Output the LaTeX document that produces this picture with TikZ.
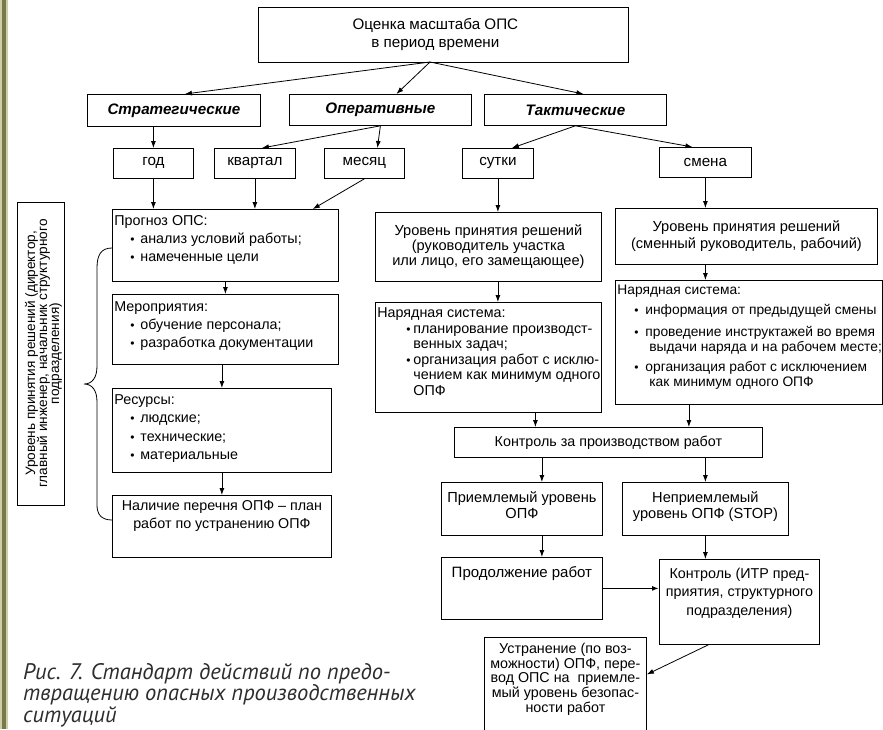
\documentclass[tikz,border=0pt]{standalone}
\usepackage{fontspec}
\setmainfont{Liberation Sans}
\newfontfamily\capfont{PT Sans}
\usetikzlibrary{arrows.meta}

\definecolor{bardark}{RGB}{122,122,72}
\definecolor{barlight}{RGB}{205,205,170}
\definecolor{capgray}{RGB}{45,45,45}

\newcommand{\dg}{\fontsize{14.3}{15}\selectfont}
\newcommand{\lgtxt}{\fontsize{15.2}{18}\selectfont}
% cell with text starting at the top: width, height, first baseline, content
\newcommand{\topcell}[4]{\parbox[c][#2][t]{#1}{\raggedright\rule{0pt}{#3}\ignorespaces#4}}
% same, lines centred
\newcommand{\topcellc}[4]{\parbox[c][#2][t]{#1}{\centering\rule{0pt}{#3}\ignorespaces#4}}
% cell with text centred both ways
\newcommand{\midcell}[3]{\parbox[c][#2][c]{#1}{\centering #3}}
\newcommand{\blt}{{\fontsize{12}{12}\selectfont\textbullet}}
% list entry: bullet offset, text offset, hanging indent, text
\newcommand{\bitem}[4]{\par\hangindent=#3\hangafter=1\noindent\hspace*{#1}\makebox[\dimexpr#2-#1\relax][l]{\blt}#4}

\begin{document}
\begin{tikzpicture}[x=1pt,y=-1pt,
  box/.style={draw=black, line width=0.8pt, inner sep=0pt, anchor=north west, font=\dg},
  arr/.style={-{Latex[length=7pt,width=5pt]}, line width=0.8pt},
]
\useasboundingbox (0,0) rectangle (883,729);
\fill[white] (0,0) rectangle (883,729);
% page margin bar
\fill[barlight] (0,0) rectangle (8,729);
\fill[bardark] (2,0) rectangle (6,729);

% ---- top level
\node[box] (top) at (258,7) {\midcell{354pt}{55pt}{\lgtxt Оценка масштаба ОПС\\в период времени}\hspace*{16pt}};
\node[box] (strat) at (87,94) {\midcell{173pt}{32pt}{\lgtxt\textbf{\textit{Стратегические}}}};
\node[box] (oper) at (289,94) {\midcell{182pt}{31pt}{\lgtxt\textbf{\textit{Оперативные}}}};
\node[box] (tact) at (484,94) {\midcell{182pt}{31pt}{\lgtxt\textbf{\textit{Тактические}}}};

% ---- periods
\node[box] (god) at (113,148) {\midcell{80pt}{30pt}{\lgtxt год}};
\node[box] (kvart) at (214,148) {\midcell{81pt}{30pt}{\lgtxt квартал}};
\node[box] (mes) at (324,148) {\midcell{80pt}{30pt}{\lgtxt месяц}};
\node[box] (sut) at (462,148) {\midcell{71pt}{30pt}{\lgtxt сутки}};
\node[box] (smena) at (659,147) {\midcell{92pt}{30pt}{\lgtxt смена}};

% ---- strategic / operative column
\node[box] (progn) at (112,209) {\topcell{226pt}{72pt}{16pt}{\fontsize{14.3}{18}\selectfont\hspace*{2pt}Прогноз ОПС:
  \bitem{18pt}{28pt}{28pt}{анализ условий работы;}
  \bitem{18pt}{28pt}{28pt}{намеченные цели}}};
\node[box] (merop) at (112,294) {\topcell{226pt}{70pt}{17pt}{\fontsize{14.3}{18}\selectfont\hspace*{2pt}Мероприятия:
  \bitem{18pt}{28pt}{28pt}{обучение персонала;}
  \bitem{18pt}{28pt}{28pt}{разработка документации}}};
\node[box] (res) at (112,388) {\topcell{219pt}{84pt}{16pt}{\fontsize{14.3}{18.5}\selectfont\hspace*{2pt}Ресурсы:
  \bitem{18pt}{28pt}{28pt}{людские;}
  \bitem{18pt}{28pt}{28pt}{технические;}
  \bitem{18pt}{28pt}{28pt}{материальные}}};
\node[box] (nalich) at (112,495) {\topcellc{219pt}{62pt}{15pt}{\fontsize{14.3}{18}\selectfont Наличие перечня ОПФ – план\\работ по устранению ОПФ}};

% decision level of the management
\node[box, anchor=center, rotate=90] (side) at (40.5,353.5) {\midcell{303pt}{47pt}{\vspace*{6pt}\fontsize{13.6}{12}\selectfont\lineskiplimit=-20pt
  Уровень принятия решений (директор,\\главный инженер, начальник структурного\\подразделения)}};
\draw[line width=0.8pt] (progn.west |- 0,248) .. controls (101,248) and (97,255) .. (97,268) -- (97,366)
  .. controls (97,378) and (92,384) .. (84,384)
  .. controls (92,384) and (97,390) .. (97,402) -- (97,505)
  .. controls (97,514) and (101,520) .. (nalich.west |- 0,520);

% ---- tactical columns
\node[box] (urov1) at (375,212) {\midcell{226pt}{69pt}{\fontsize{14.6}{15}\selectfont Уровень принятия решений\\(руководитель участка\\или лицо, его замещающее)}};
\node[box] (nar1) at (375,302) {\topcell{226pt}{110pt}{15pt}{\fontsize{14.3}{15.6}\selectfont\hspace*{2pt}Нарядная система:
  \bitem{31pt}{38pt}{38pt}{планирование производст-\newline венных задач;}
  \bitem{31pt}{38pt}{38pt}{организация работ с исклю-\newline чением как минимум одного\newline ОПФ}}};
\node[box] (urov2) at (615,208) {\midcell{262pt}{56pt}{\fontsize{14.6}{17}\selectfont Уровень принятия решений\\(сменный руководитель, рабочий)}};
\node[box] (nar2) at (615,280) {\topcell{267pt}{124pt}{14pt}{\fontsize{13.8}{15}\selectfont\hspace*{2pt}Нарядная система:
  \par\vspace{5pt}
  \bitem{19pt}{30pt}{34pt}{\mbox{информация от предыдущей смены}}
  \par\vspace{7pt}
  \bitem{19pt}{30pt}{34pt}{\mbox{проведение инструктажей во время}\newline\mbox{выдачи наряда и на рабочем месте;}}
  \par\vspace{5pt}
  \bitem{19pt}{30pt}{34pt}{\mbox{организация работ с исключением}\newline\mbox{как минимум одного ОПФ}}}};

% ---- control of the works
\node[box] (kontrol) at (454,427) {\midcell{308pt}{30pt}{Контроль за производством работ}};
\node[box] (priem) at (441,482) {\topcellc{161pt}{53pt}{20pt}{\fontsize{14.6}{16}\selectfont Приемлемый уровень\\ОПФ}};
\node[box] (nepriem) at (622,482) {\topcellc{166pt}{53pt}{20pt}{\fontsize{14.6}{16}\selectfont Неприемлемый\\уровень ОПФ (STOP)}};
\node[box] (prod) at (441,557) {\topcellc{161pt}{62pt}{20pt}{\fontsize{15}{16}\selectfont Продолжение работ}};
\node[box] (itr) at (659,559) {\topcellc{160pt}{85pt}{19pt}{\fontsize{14.3}{18.5}\selectfont Контроль (ИТР пред-\\приятия, структурного\\подразделения)}};
\node[box] (ustr) at (484,637) {\topcellc{162pt}{100pt}{16pt}{\fontsize{14.3}{14.7}\selectfont Устранение (по воз-\\можности) ОПФ, пере-\\вод ОПС на~~приемле-\\мый уровень безопас-\\ности работ}};

% ---- caption
\node[anchor=base west, align=left, inner sep=0pt, text=capgray,
  font=\capfont\itshape\fontsize{22.5}{21.5}\selectfont] (cap) at (23,722)
  {Рис. 7. Стандарт действий по предо-\\твращению опасных производственных\\ситуаций};

% ---- connectors
\coordinate (tb) at (430,62);
\draw[arr] (tb) -- ([xshift=11pt]strat.north);
\draw[arr] (tb) -- ([xshift=16pt]oper.north);
\draw[arr] (tb) -- ([xshift=8pt]tact.north);

\draw[arr] (strat.south -| god.north) -- (god.north);
\draw[arr] (oper.south) -- ([xshift=7pt]kvart.north);
\draw[arr] (oper.south) -- ([xshift=13pt]mes.north);
\draw[arr] (tact.south) -- ([xshift=14pt]sut.north);
\draw[arr] (tact.south) -- ([xshift=-13pt]smena.north);

\draw[arr] (god.south) -- (god.south |- progn.north);
\draw[arr] (kvart.south) -- (kvart.south |- progn.north);
\draw[arr] (mes.south) -- ([xshift=-26pt]progn.north east);
\draw[arr] (progn.south) -- (merop.north);
\draw[arr] (res.north |- merop.south) -- (res.north);
\draw[arr] (res.south) -- (nalich.north);

\draw[arr] (sut.south) -- (sut.south |- urov1.north);
\draw[arr] (sut.south |- urov1.south) -- (sut.south |- nar1.north);
\draw[arr] (smena.south) -- (smena.south |- urov2.north);
\draw[arr] (smena.south |- urov2.south) -- (smena.south |- nar2.north);

\draw[arr] ([xshift=47pt]nar1.south) -- ([xshift=47pt]nar1.south |- kontrol.north);
\draw[arr] ([xshift=-60pt]nar2.south) -- ([xshift=-60pt]nar2.south |- kontrol.north);
\draw[arr] ([xshift=20pt]priem.north |- kontrol.south) -- ([xshift=20pt]priem.north);
\draw[arr] (nepriem.north |- kontrol.south) -- (nepriem.north);
\draw[arr] ([xshift=20pt]priem.south) -- ([xshift=20pt]priem.south |- prod.north);
\draw[arr] (nepriem.south) -- (nepriem.south |- itr.north);
\draw[arr, line width=1.6pt] (prod.east) -- (prod.east -| itr.west);
\draw[arr] ([xshift=-31pt]itr.south) -- ([yshift=13pt]ustr.east);
\end{tikzpicture}
\end{document}
